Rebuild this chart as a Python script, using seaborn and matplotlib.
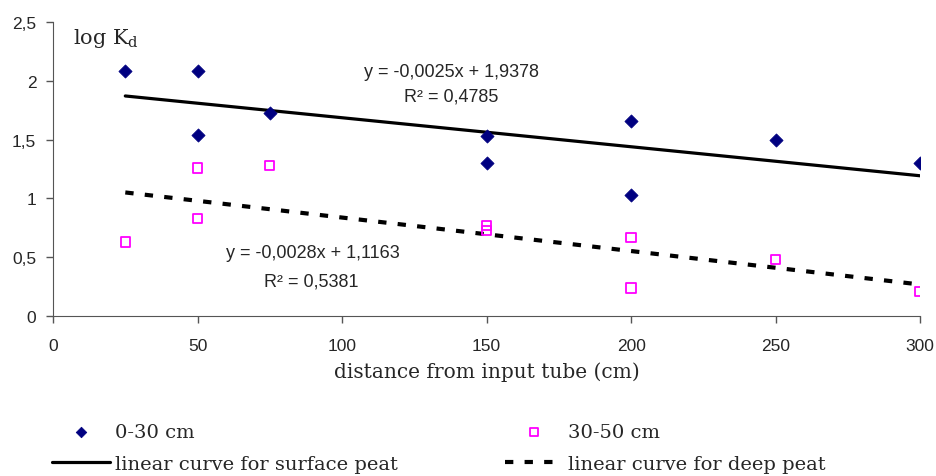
import numpy as np
import pandas as pd
import seaborn as sns
import matplotlib.pyplot as plt
from matplotlib.ticker import FuncFormatter

# values
dist_surface = [25, 50, 50, 75, 150, 150, 200, 200, 250, 300]
logkd_surface = [2.08, 2.08, 1.54, 1.73, 1.53, 1.30, 1.66, 1.03, 1.50, 1.30]

dist_deep = [25, 50, 50, 75, 150, 150, 200, 200, 250, 300]
logkd_deep = [0.63, 1.26, 0.83, 1.28, 0.77, 0.73, 0.67, 0.24, 0.48, 0.21]

x_ticks = [0, 50, 100, 150, 200, 250, 300]
y_ticks = [0, 0.5, 1, 1.5, 2, 2.5]

eq_surface = "y = -0,0025x + 1,9378"
r2_surface = "R² = 0,4785"
eq_deep = "y = -0,0028x + 1,1163"
r2_deep = "R² = 0,5381"

surface = pd.DataFrame({"dist": dist_surface, "logkd": logkd_surface})
deep = pd.DataFrame({"dist": dist_deep, "logkd": logkd_deep})

sns.set_style("ticks")
plt.rcParams['font.family'] = ['Liberation Sans', 'DejaVu Sans']
plt.rcParams['mathtext.fontset'] = 'custom'
plt.rcParams['mathtext.rm'] = 'DejaVu Serif'
plt.rcParams['mathtext.it'] = 'DejaVu Serif'

fig = plt.figure(figsize=(9.37, 4.77), dpi=100)
ax = fig.add_axes([0.0566, 0.335, 0.9254, 0.617])

sns.scatterplot(data=surface, x="dist", y="logkd", ax=ax, marker="D", s=45,
                color="#000080", edgecolor="#000080", label="0-30 cm", zorder=3)
sns.scatterplot(data=deep, x="dist", y="logkd", ax=ax, marker="s", s=45,
                facecolor="none", edgecolor="#FF00FF", linewidth=1.3,
                label="30-50 cm", zorder=3)

# trend lines
sns.regplot(data=surface, x="dist", y="logkd", ax=ax, scatter=False, ci=None,
            truncate=True, label="linear curve for surface peat",
            line_kws={"color": "black", "lw": 2.3})
sns.regplot(data=deep, x="dist", y="logkd", ax=ax, scatter=False, ci=None,
            truncate=True, label="linear curve for deep peat",
            line_kws={"color": "black", "lw": 3, "linestyle": (0, (2, 2.7))})

ax.set_xlim(0, 300)
ax.set_ylim(0, 2.5)
ax.set_xticks(x_ticks)
ax.set_yticks(y_ticks)
ax.yaxis.set_major_formatter(FuncFormatter(lambda v, p: f"{v:g}".replace(".", ",")))
ax.tick_params(labelsize=12.5, length=5, width=1, color="#555555")
ax.tick_params(axis="y", pad=7)
ax.tick_params(axis="x", pad=11)
sns.despine(ax=ax)
for s in ["left", "bottom"]:
    ax.spines[s].set_color("#555555")

ax.set_xlabel("distance from input tube (cm)", family="DejaVu Serif",
              fontsize=14.5, labelpad=6)
ax.set_ylabel("")

ax.text(7, 2.365, r"$\mathrm{log\ K_d}$", fontsize=15, ha="left", va="center")

ax.text(137.7, 2.078, eq_surface, fontsize=13, ha="center", va="center")
ax.text(137.7, 1.87, r2_surface, fontsize=13, ha="center", va="center")
ax.text(90, 0.544, eq_deep, fontsize=13, ha="center", va="center")
ax.text(89.5, 0.298, r2_deep, fontsize=13, ha="center", va="center")

handles, labels = ax.get_legend_handles_labels()
order = [0, 2, 1, 3]
if ax.get_legend():
    ax.get_legend().remove()
leg = fig.legend([handles[i] for i in order], [labels[i] for i in order],
                 loc="upper left", bbox_to_anchor=(0.0555, 0.111), ncol=2,
                 frameon=False, prop={"family": "DejaVu Serif", "size": 14},
                 handlelength=2.98, handletextpad=0.26, columnspacing=5.5,
                 labelspacing=0.72, borderpad=0, borderaxespad=0,
                 markerscale=0.8)

fig.savefig("out.png", dpi=100)
